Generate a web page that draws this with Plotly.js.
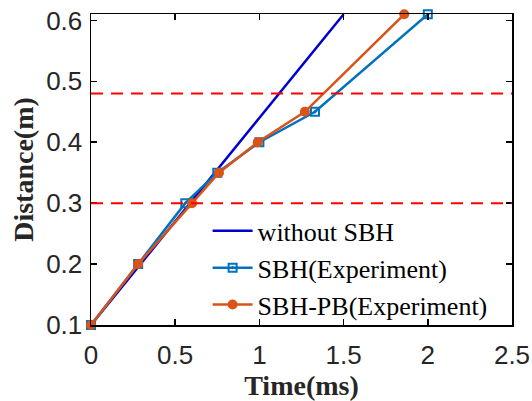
<!DOCTYPE html>
<html>
<head>
<meta charset="utf-8">
<script src="https://cdn.plot.ly/plotly-2.35.2.min.js"></script>
<style>html,body{margin:0;padding:0;background:#fff;}#chart{width:532px;height:401px;}</style>
</head>
<body>
<div id="chart"></div>
<script>
// Data
const noSbhTime = [0, 1.5];
const noSbhDist = [0.1, 0.61];
const sbhTime = [0, 0.28, 0.56, 0.75, 1.0, 1.33, 2.0];
const sbhDist = [0.1, 0.2, 0.3, 0.35, 0.4, 0.45, 0.61];
const pbTime = [0, 0.28, 0.6, 0.76, 0.99, 1.27, 1.86];
const pbDist = [0.1, 0.2, 0.3, 0.35, 0.4, 0.45, 0.61];
const refLines = [0.3, 0.48];
const xTicks = [0, 0.5, 1, 1.5, 2, 2.5];
const xTickText = ['0', '0.5', '1', '1.5', '2', '2.5'];
const yTicks = [0.1, 0.2, 0.3, 0.4, 0.5, 0.6];
const yTickText = ['0.1', '0.2', '0.3', '0.4', '0.5', '0.6'];
const names = ['without SBH', 'SBH(Experiment)', 'SBH-PB(Experiment)'];

const traces = [
  {x: noSbhTime, y: noSbhDist, name: names[0], mode: 'lines', type: 'scatter',
   line: {color: '#0000CC', width: 2.5}, cliponaxis: false},
  {x: sbhTime, y: sbhDist, name: names[1], mode: 'lines+markers', type: 'scatter',
   line: {color: '#0072BD', width: 2.5},
   marker: {symbol: 'square-open-dot', size: 8, color: '#0072BD', line: {width: 2, color: '#0072BD'}},
   cliponaxis: false},
  {x: pbTime, y: pbDist, name: names[2], mode: 'lines+markers', type: 'scatter',
   line: {color: '#D95319', width: 2.5},
   marker: {symbol: 'circle', size: 10, color: '#D95319'}, cliponaxis: false}
];

const shapes = refLines.map(v => ({
  type: 'line', xref: 'paper', yref: 'y', x0: 0, x1: 1, y0: v, y1: v,
  line: {color: '#FF0000', width: 2, dash: '12px,8px'}
}));

const axisCommon = {
  showline: true, linecolor: '#000', linewidth: 1.5, mirror: 'ticks',
  ticks: 'inside', ticklen: 6, tickwidth: 1.5, tickcolor: '#000',
  showgrid: false, zeroline: false,
  tickfont: {family: 'Liberation Sans, Arial, sans-serif', size: 26, color: '#262626'}
};

const layout = {
  width: 532, height: 401,
  margin: {l: 91, r: 20, t: 14, b: 76},
  paper_bgcolor: '#fff', plot_bgcolor: '#fff',
  showlegend: true,
  legend: {x: 0.277, y: 0.378, xanchor: 'left', yanchor: 'top', bgcolor: 'rgba(0,0,0,0)',
    font: {family: 'Liberation Serif, Times New Roman, serif', size: 26, color: '#000'},
    tracegroupgap: 0, itemwidth: 40},
  xaxis: Object.assign({}, axisCommon, {
    range: [0, 2.5], tickvals: xTicks, ticktext: xTickText, ticklabelstandoff: 6,
    title: {text: '<b>Time(ms)</b>', standoff: 4,
      font: {family: 'Liberation Serif, Times New Roman, serif', size: 28, color: '#262626'}}
  }),
  yaxis: Object.assign({}, axisCommon, {
    range: [0.1, 0.6105], tickvals: yTicks, ticktext: yTickText, ticklabelstandoff: 2,
    title: {text: '<b>Distance(m)</b>', standoff: 4,
      font: {family: 'Liberation Serif, Times New Roman, serif', size: 28, color: '#262626'}}
  }),
  shapes: shapes
};

Plotly.newPlot('chart', traces, layout, {displayModeBar: false, staticPlot: true});
</script>
</body>
</html>
